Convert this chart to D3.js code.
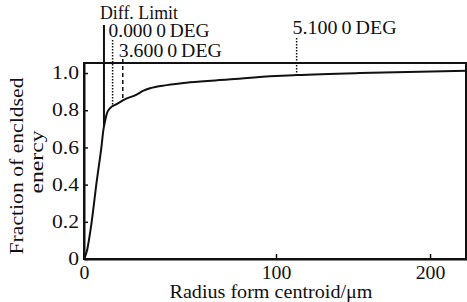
<!DOCTYPE html>
<html>
<head>
<meta charset="utf-8">
<script src="https://cdn.jsdelivr.net/npm/d3@7"></script>
<style>
  body { margin: 0; background: #fff; }
  svg text { font-family: "Liberation Serif", "Times New Roman", serif; fill: #111; }
</style>
</head>
<body>
<svg id="chart" width="467" height="302"></svg>
<script>
// encircled energy curve
const radius   = [0, 1.4, 4.0, 6.6, 9.2, 10.1, 10.9, 12.0, 13.5, 17.0, 20.5, 27.4, 31.0, 34.4, 43.1, 55.2, 75, 100, 113.4, 154.5, 224];
const fraction = [0, 0.039, 0.20, 0.416, 0.613, 0.694, 0.738, 0.785, 0.81, 0.833, 0.855, 0.884, 0.905, 0.918, 0.935, 0.95, 0.965, 0.984, 0.989, 1.0, 1.012];

// vertical marker lines
const markerLabels = ['Diff. Limit', '0.000\u20090\u2009DEG', '3.600\u20090\u2009DEG', '5.100\u20090\u2009DEG'];
const markerRadius = [10.4, 14.9, 20.2, 113.4];
const markerDash   = ['none', '1.5,1.5', '4,3', '1.5,1.5'];
const markerTop    = [25, 40, 59, 38];    // layout: where each line starts (px)
const labelBase    = [19, 37, 57, 34];    // layout: label baselines (px)
const labelWidth   = [78, 101, 103, 104]; // layout: label widths (px)

const xTicks = [0, 100, 200];
const yTicks = [0, 0.2, 0.4, 0.6, 0.8, 1.0];

const svg = d3.select('#chart');

// the original axis is not evenly spaced between 0-100 and 100-200
const x = d3.scaleLinear().domain([0, 100, 224]).range([84, 276, 467]);
const y = d3.scaleLinear().domain([0, 1.054]).range([259, 63]);

// stretch text horizontally like the scanned figure
function stretch(sel, k) {
  sel.each(function() {
    const w = this.getComputedTextLength();
    d3.select(this).attr('textLength', w * k).attr('lengthAdjust', 'spacingAndGlyphs');
  });
}

// frame
svg.append('rect')
    .attr('x', x(0)).attr('y', y(1.054))
    .attr('width', 466 - x(0)).attr('height', y(0) - y(1.054))
    .attr('fill', 'none').attr('stroke', '#111').attr('stroke-width', 2);

const xAxis = d3.axisBottom(x).tickValues(xTicks).tickSizeInner(-5).tickSizeOuter(0).tickPadding(7);
const yAxis = d3.axisLeft(y).tickValues(yTicks).tickSizeInner(-4).tickSizeOuter(0).tickPadding(5)
    .tickFormat(d => d === 0 ? '0' : d3.format('.1f')(d));

const xg = svg.append('g').attr('transform', `translate(0,${y(0)})`).call(xAxis);
const yg = svg.append('g').attr('transform', `translate(${x(0)},0)`).call(yAxis);
[xg, yg].forEach(g => {
  g.select('.domain').attr('stroke', '#111').attr('stroke-width', 2);
  g.selectAll('.tick line').attr('stroke', '#111').attr('stroke-width', 1.5);
  g.selectAll('.tick text').attr('font-size', 18).attr('font-family', null);
});
xg.selectAll('.tick text').call(stretch, 1.1);
yg.selectAll('.tick text').call(stretch, 1.2);

// curve
const pts = radius.map((r, i) => [r, fraction[i]]);
svg.append('path')
    .datum(pts)
    .attr('fill', 'none')
    .attr('stroke', '#111')
    .attr('stroke-width', 2)
    .attr('d', d3.line().x(d => x(d[0])).y(d => y(d[1])).curve(d3.curveMonotoneX));

// value of the curve at r (linear between read points)
const fAt = d3.scaleLinear().domain(radius).range(fraction);

markerRadius.forEach((r, i) => {
  svg.append('line')
      .attr('x1', x(r)).attr('x2', x(r))
      .attr('y1', markerTop[i]).attr('y2', y(fAt(r)))
      .attr('stroke', '#111')
      .attr('stroke-width', i === 0 ? 2 : 1.5)
      .attr('stroke-dasharray', markerDash[i]);
  const t = svg.append('text')
      .attr('x', x(r) - 4)
      .attr('y', labelBase[i])
      .attr('font-size', 19)
      .text(markerLabels[i]);
  t.call(stretch, labelWidth[i] / t.node().getComputedTextLength());
});

// axis titles
svg.append('text')
    .attr('x', 271).attr('y', 298)
    .attr('text-anchor', 'middle')
    .attr('font-size', 18)
    .text('Radius form centroid/\u03bcm')
    .attr('textLength', 203).attr('lengthAdjust', 'spacingAndGlyphs');

svg.append('text')
    .attr('transform', 'translate(23,166) rotate(-90)')
    .attr('text-anchor', 'middle')
    .attr('font-size', 18)
    .text('Fraction of encldsed')
    .attr('textLength', 177).attr('lengthAdjust', 'spacingAndGlyphs');

svg.append('text')
    .attr('transform', 'translate(43,162) rotate(-90)')
    .attr('text-anchor', 'middle')
    .attr('font-size', 18)
    .text('enercy')
    .attr('textLength', 63).attr('lengthAdjust', 'spacingAndGlyphs');
</script>
</body>
</html>
